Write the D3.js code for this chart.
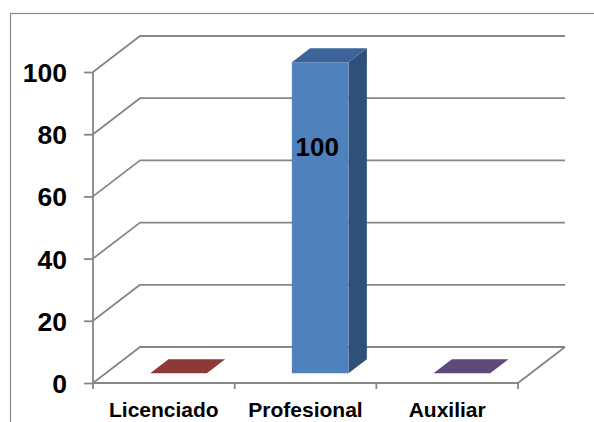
<!DOCTYPE html>
<html>
<head>
<meta charset="utf-8">
<script src="https://cdn.jsdelivr.net/npm/d3@7"></script>
<style>
  html, body { margin: 0; padding: 0; background: #fff; }
  svg { display: block; font-family: "Liberation Sans", Arial, sans-serif; }
</style>
</head>
<body>
<svg id="chart" width="594" height="422"></svg>
<script>
const categories = ["Licenciado", "Profesional", "Auxiliar"];
const values = [0, 100, 0];
const yTicks = [0, 20, 40, 60, 80, 100];
const dataLabels = ["", "100", ""];
const frontColors = ["#C0504D", "#4F81BD", "#8064A2"];
const topColors = ["#8E3937", "#3C649A", "#5F497A"];
const sideColors = ["#7A302E", "#2F5079", "#4E3C65"];

const svg = d3.select("#chart");
const DX = 47, DY = 36;           // depth offset of the 3D box
const Z0 = 0.27, Z1 = 0.66;       // bar depth extent
const BAR_FRAC = 0.4;             // bar width relative to band
const GRID = "#868686";

const x = d3.scaleBand().domain(categories).range([93, 518]).paddingInner(0).paddingOuter(0);
const y = d3.scaleLinear().domain([0, 100]).range([383, 72]);
const proj = (px, v, z) => [px + z * DX, y(v) - z * DY];

// outer border (cropped at right and bottom)
svg.append("rect").attr("x", 10.5).attr("y", 13.5).attr("width", 620).attr("height", 430)
  .attr("fill", "none").attr("stroke", "#8a8a8a").attr("stroke-width", 1.2);

const x0 = x.range()[0], x1 = x.range()[1];

// back wall gridlines + side wall diagonals
const grid = svg.append("g").attr("stroke", GRID).attr("stroke-width", 1.8).attr("fill", "none");
yTicks.forEach(t => {
  const a = proj(x0, t, 0), b = proj(x0, t, 1), c = proj(x1, t, 1);
  grid.append("path").attr("d", `M${a[0]},${a[1]}L${b[0]},${b[1]}L${c[0]},${c[1]}`)
    .attr("stroke-linejoin", "round");
});
// floor front edge and right edge
{
  const a = proj(x0, 0, 0), b = proj(x1, 0, 0), c = proj(x1, 0, 1);
  grid.append("path").attr("d", `M${a[0]},${a[1]}L${b[0]},${b[1]}L${c[0]},${c[1]}`);
}

// y axis
const yAxis = d3.axisLeft(y).tickValues(yTicks).tickSize(9).tickPadding(17);
const yg = svg.append("g").attr("transform", `translate(${x0},0)`).call(yAxis);
yg.select(".domain").attr("stroke", GRID).attr("stroke-width", 1.8).attr("d", `M0,${y(100)}V${y(0)}`);
yg.selectAll(".tick line").attr("stroke", GRID).attr("stroke-width", 1.8);
yg.selectAll(".tick text").attr("fill", "#000").attr("font-size", 26.5).attr("font-weight", "bold")
  .attr("font-family", "Liberation Sans, Arial, sans-serif").attr("dy", "0.36em");

// x axis: labels at band centers, ticks at band boundaries
const xAxis = d3.axisBottom(x).tickSize(0).tickPadding(19);
const xg = svg.append("g").attr("transform", `translate(0,${y(0)})`).call(xAxis);
xg.select(".domain").remove();
xg.selectAll(".tick text").attr("fill", "#000").attr("font-size", 21).attr("font-weight", "bold")
  .attr("font-family", "Liberation Sans, Arial, sans-serif").attr("dy", "0.71em");
const bounds = categories.map(c => x(c)).concat([x1]);
svg.append("g").selectAll("line").data(bounds).join("line")
  .attr("x1", d => d).attr("x2", d => d).attr("y1", y(0)).attr("y2", y(0) + 6)
  .attr("stroke", GRID).attr("stroke-width", 1.8);

// bars
const bars = svg.append("g");
categories.forEach((c, i) => {
  const v = values[i];
  const bw = x.bandwidth() * BAR_FRAC;
  const cx = x(c) + x.bandwidth() / 2 + 2;
  const L = cx - bw / 2, R = cx + bw / 2;
  const pts = (arr) => arr.map(p => p.join(",")).join(" ");
  if (v > 0) {
    bars.append("polygon").attr("points", pts([proj(R, 0, Z0), proj(R, 0, Z1), proj(R, v, Z1), proj(R, v, Z0)]))
      .attr("fill", sideColors[i]);
    bars.append("polygon").attr("points", pts([proj(L, 0, Z0), proj(R, 0, Z0), proj(R, v, Z0), proj(L, v, Z0)]))
      .attr("fill", frontColors[i]);
  }
  bars.append("polygon").attr("points", pts([proj(L, v, Z0), proj(R, v, Z0), proj(R, v, Z1), proj(L, v, Z1)]))
    .attr("fill", topColors[i]);
  if (dataLabels[i]) {
    const p = proj(cx, v, Z0);
    bars.append("text").attr("x", p[0] - 3).attr("y", 156).attr("text-anchor", "middle")
      .attr("font-size", 26).attr("font-weight", "bold").attr("fill", "#000").text(dataLabels[i]);
  }
});
</script>
</body>
</html>
